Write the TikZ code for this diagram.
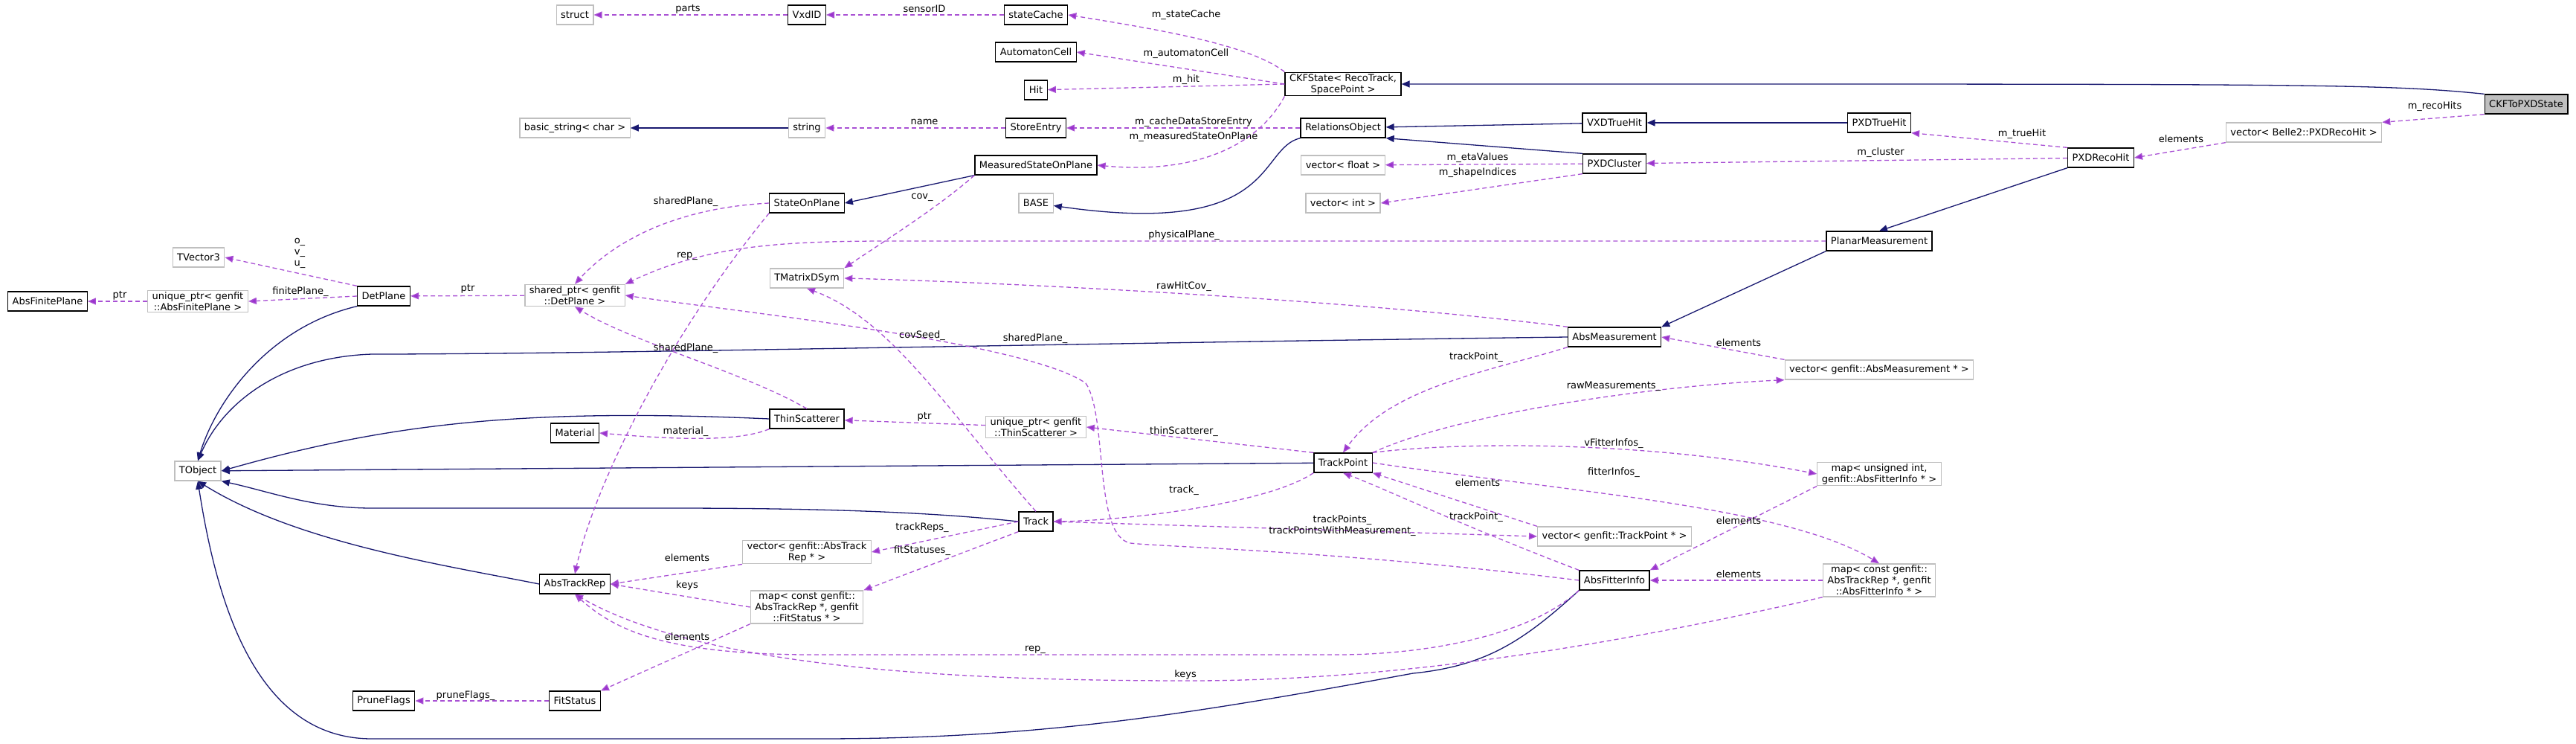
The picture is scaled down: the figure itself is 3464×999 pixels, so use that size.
\documentclass[tikz,border=0pt]{standalone}
\usepackage{fontspec}
\setmainfont{DejaVu Sans}
\usetikzlibrary{arrows.meta}
\definecolor{inhblue}{HTML}{191970}
\definecolor{usepurple}{HTML}{9A32CD}
\definecolor{extgray}{HTML}{BFBFBF}
\tikzset{
    cls/.style={draw=black, line width=1.3pt, fill=white, inner xsep=6pt, inner ysep=2pt, minimum height=26pt, align=center},
    ext/.style={cls, draw=extgray},
    main/.style={cls, fill=extgray},
    inh/.style={draw=inhblue, line width=1.3pt, -{Triangle[length=11pt,width=9pt]}},
    use/.style={draw=usepurple!85, line width=1.3pt, dash pattern=on 6pt off 4pt, -{Triangle[length=11pt,width=9pt,fill=usepurple]}},
    lbl/.style={inner sep=1pt, align=center}
}
\begin{document}
\begin{tikzpicture}[x=1pt, y=-1pt, font=\fontsize{13}{15}\selectfont]
    \useasboundingbox (0,0) rectangle (3464,999);

    % classes and containers
    \node[ext] (struct) at (773,20) {struct};
    \node[cls] (VxdID) at (1085,20) {VxdID};
    \node[cls] (stateCache) at (1393,20) {stateCache};
    \node[cls] (AutomatonCell) at (1393,70) {AutomatonCell};
    \node[cls] (Hit) at (1393,121) {Hit};
    \node[cls] (CKFState) at (1806,113) {CKFState< RecoTrack,\\SpacePoint >};
    \node[main] (CKFToPXDState) at (3397,140) {CKFToPXDState};
    \node[ext] (basicString) at (773,172) {basic\_string< char >};
    \node[ext] (string) at (1085,172) {string};
    \node[cls] (StoreEntry) at (1393,172) {StoreEntry};
    \node[cls] (RelationsObject) at (1806,172) {RelationsObject};
    \node[cls] (VXDTrueHit) at (2171,165) {VXDTrueHit};
    \node[cls] (PXDTrueHit) at (2527,165) {PXDTrueHit};
    \node[ext] (vecRecoHit) at (3098,178) {vector< Belle2::PXDRecoHit >};
    \node[cls] (PXDRecoHit) at (2825,212) {PXDRecoHit};
    \node[cls] (MeasState) at (1393,222) {MeasuredStateOnPlane};
    \node[ext] (vecFloat) at (1806,222) {vector< float >};
    \node[cls] (PXDCluster) at (2171,220) {PXDCluster};
    \node[cls] (StateOnPlane) at (1085,273) {StateOnPlane};
    \node[ext] (BASE) at (1393,273) {BASE};
    \node[ext] (vecInt) at (1806,273) {vector< int >};
    \node[cls] (PlanarMeas) at (2527,324) {PlanarMeasurement};
    \node[ext] (TVector3) at (267,346) {TVector3};
    \node[ext] (TMatrixDSym) at (1085,374) {TMatrixDSym};
    \node[cls] (AbsFinitePlane) at (64,405) {AbsFinitePlane};
    \node[ext] (uniqFinite) at (266,405) {unique\_ptr< genfit\\::AbsFinitePlane >};
    \node[cls] (DetPlane) at (516,398) {DetPlane};
    \node[ext] (sharedPlane) at (773,397) {shared\_ptr< genfit\\::DetPlane >};
    \node[cls] (AbsMeas) at (2171,453) {AbsMeasurement};
    \node[ext] (vecAbsMeas) at (2527,497) {vector< genfit::AbsMeasurement * >};
    \node[cls] (ThinScatterer) at (1085,563) {ThinScatterer};
    \node[cls] (Material) at (773,582) {Material};
    \node[ext] (uniqThin) at (1393,574) {unique\_ptr< genfit\\::ThinScatterer >};
    \node[cls] (TrackPoint) at (1806,622) {TrackPoint};
    \node[ext] (TObject) at (266,633) {TObject};
    \node[ext] (mapFitterUint) at (2527,637) {map< unsigned int,\\genfit::AbsFitterInfo * >};
    \node[cls] (Track) at (1393,701) {Track};
    \node[ext] (vecTrackPoint) at (2171,721) {vector< genfit::TrackPoint * >};
    \node[ext] (vecTrackRep) at (1085,742) {vector< genfit::AbsTrack\\Rep * >};
    \node[cls] (AbsTrackRep) at (773,785) {AbsTrackRep};
    \node[cls] (AbsFitterInfo) at (2171,780) {AbsFitterInfo};
    \node[ext] (mapFitterRep) at (2527,780) {map< const genfit::\\AbsTrackRep *, genfit\\::AbsFitterInfo * >};
    \node[ext] (mapFitStatus) at (1085,816) {map< const genfit::\\AbsTrackRep *, genfit\\::FitStatus * >};
    \node[cls] (PruneFlags) at (516,942) {PruneFlags};
    \node[cls] (FitStatus) at (773,942) {FitStatus};

    % inheritance
    \draw[inh] (CKFToPXDState.north west) .. controls (3200,112) and (3100,113) .. (CKFState);
    \draw[inh] (VXDTrueHit) -- (RelationsObject);
    \draw[inh] (PXDTrueHit) -- (VXDTrueHit);
    \draw[inh] (PXDCluster.north west) -- (RelationsObject.south east);
    \draw[inh] (PXDRecoHit.south west) -- (PlanarMeas.north);
    \draw[inh] (PlanarMeas.south west) -- (AbsMeas.north east);
    \draw[inh] (RelationsObject.south west) .. controls (1690,200) and (1720,320) .. (BASE);
    \draw[inh] (MeasState.south west) -- (StateOnPlane.east);
    \draw[inh] (string) -- (basicString);
    \draw[inh] (AbsMeas.west) .. controls (1400,462) and (800,476) .. (500,476) .. controls (380,480) and (300,540) .. (TObject.north);
    \draw[inh] (DetPlane.south west) .. controls (360,440) and (290,540) .. (TObject.north);
    \draw[inh] (ThinScatterer.west) .. controls (700,548) and (520,570) .. (TObject.east);
    \draw[inh] (TrackPoint) -- (TObject);
    \draw[inh] (Track.west) .. controls (1250,688) and (1100,683) .. (900,683) -- (500,683) .. controls (420,683) and (360,660) .. (TObject.south east);
    \draw[inh] (AbsTrackRep.west) .. controls (600,760) and (400,730) .. (TObject.south);
    \draw[inh] (AbsFitterInfo.south west) .. controls (2050,860) and (2000,895) .. (1900,905) .. controls (1600,960) and (1400,993) .. (1100,993) -- (500,993) .. controls (340,993) and (290,800) .. (TObject.south);

    % usage
    \draw[use] (VxdID) -- (struct);
    \draw[use] (stateCache) -- (VxdID);
    \draw[use] (CKFState.north west) .. controls (1680,60) and (1560,40) .. (stateCache.east);
    \draw[use] (CKFState.west) -- (AutomatonCell.east);
    \draw[use] (CKFState.west) -- (Hit);
    \draw[use] (StoreEntry) -- (string);
    \draw[use] (RelationsObject) -- (StoreEntry);
    \draw[use] (CKFState.south west) .. controls (1690,200) and (1600,234) .. (MeasState.east);
    \draw[use] (PXDCluster) -- (vecFloat);
    \draw[use] (PXDCluster.south west) -- (vecInt.east);
    \draw[use] (PXDRecoHit.north west) -- (PXDTrueHit.south east);
    \draw[use] (PXDRecoHit) -- (PXDCluster);
    \draw[use] (vecRecoHit.south west) -- (PXDRecoHit.east);
    \draw[use] (CKFToPXDState.south west) -- (vecRecoHit.north east);
    \draw[use] (DetPlane.north west) -- (TVector3.east);
    \draw[use] (DetPlane.west) -- (uniqFinite.east);
    \draw[use] (uniqFinite) -- (AbsFinitePlane);
    \draw[use] (sharedPlane) -- (DetPlane);
    \draw[use] (StateOnPlane.west) .. controls (900,280) and (820,330) .. (sharedPlane.north);
    \draw[use] (StateOnPlane.south west) .. controls (900,450) and (800,650) .. (AbsTrackRep.north);
    \draw[use] (PlanarMeas.west) -- (1200,324) .. controls (1050,324) and (950,330) .. (sharedPlane.north east);
    \draw[use] (MeasState.south west) .. controls (1260,280) and (1180,330) .. (TMatrixDSym.north east);
    \draw[use] (AbsMeas.north west) .. controls (1800,400) and (1300,378) .. (TMatrixDSym.east);
    \draw[use] (AbsMeas.south west) .. controls (2000,500) and (1870,520) .. (TrackPoint.north);
    \draw[use] (vecAbsMeas.north west) -- (AbsMeas.east);
    \draw[use] (TrackPoint.north east) .. controls (1950,560) and (2200,520) .. (vecAbsMeas.south west);
    \draw[use] (ThinScatterer.north) .. controls (1000,500) and (850,460) .. (sharedPlane.south);
    \draw[use] (AbsFitterInfo.west) .. controls (1800,740) and (1560,735) .. (1520,730) .. controls (1470,720) and (1490,560) .. (1460,515) .. controls (1380,460) and (1000,420) .. (sharedPlane.east);
    \draw[use] (Track.north) .. controls (1280,560) and (1200,430) .. (TMatrixDSym.south);
    \draw[use] (ThinScatterer.south west) .. controls (990,595) and (900,590) .. (Material.east);
    \draw[use] (uniqThin) -- (ThinScatterer);
    \draw[use] (TrackPoint.north west) -- (uniqThin.east);
    \draw[use] (TrackPoint.south west) .. controls (1700,680) and (1500,700) .. (Track.east);
    \draw[use] (Track.east) -- (vecTrackPoint.west);
    \draw[use] (vecTrackPoint.north west) -- (TrackPoint.south east);
    \draw[use] (AbsFitterInfo.north west) .. controls (1950,700) and (1870,660) .. (TrackPoint.south);
    \draw[use] (TrackPoint.north east) .. controls (1950,595) and (2200,590) .. (mapFitterUint.west);
    \draw[use] (TrackPoint.east) .. controls (2100,660) and (2400,680) .. (mapFitterRep.north);
    \draw[use] (mapFitterUint.south west) -- (AbsFitterInfo.north east);
    \draw[use] (mapFitterRep) -- (AbsFitterInfo);
    \draw[use] (Track.west) -- (vecTrackRep.east);
    \draw[use] (Track.south west) -- (mapFitStatus.north east);
    \draw[use] (vecTrackRep.south west) -- (AbsTrackRep.east);
    \draw[use] (mapFitStatus.west) -- (AbsTrackRep.east);
    \draw[use] (mapFitStatus.south west) -- (FitStatus.north east);
    \draw[use] (FitStatus) -- (PruneFlags);
    \draw[use] (AbsFitterInfo.south west) .. controls (2050,860) and (1900,880) .. (1800,880) -- (1080,880) .. controls (900,878) and (830,850) .. (AbsTrackRep.south);
    \draw[use] (mapFitterRep.south west) .. controls (2200,860) and (1900,915) .. (1600,915) .. controls (1300,915) and (950,900) .. (AbsTrackRep.south);

    % labels
    \node[lbl] (lParts) at (925,12) {parts};
    \node[lbl] (lSensor) at (1243,12) {sensorID};
    \node[lbl] (lStateCache) at (1595,20) {m\_stateCache};
    \node[lbl] (lAutomaton) at (1595,72) {m\_automatonCell};
    \node[lbl] (lHit) at (1595,107) {m\_hit};
    \node[lbl] (lName) at (1243,164) {name};
    \node[lbl] (lCacheEntry) at (1605,164) {m\_cacheDataStoreEntry};
    \node[lbl] (lMeasState) at (1605,184) {m\_measuredStateOnPlane};
    \node[lbl] (lRecoHits) at (3274,143) {m\_recoHits};
    \node[lbl] (lTrueHit) at (2719,180) {m\_trueHit};
    \node[lbl] (lRecoElem) at (2933,187) {elements};
    \node[lbl] (lCluster) at (2529,205) {m\_cluster};
    \node[lbl] (lEta) at (1987,212) {m\_etaValues};
    \node[lbl] (lShape) at (1987,232) {m\_shapeIndices};
    \node[lbl] (lCov) at (1240,265) {cov\_};
    \node[lbl] (lShared1) at (922,271) {sharedPlane\_};
    \node[lbl] (lPhysical) at (1592,316) {physicalPlane\_};
    \node[lbl] (lOVU) at (403,340) {o\_\\v\_\\u\_};
    \node[lbl] (lRep1) at (924,344) {rep\_};
    \node[lbl] (lRawCov) at (1592,385) {rawHitCov\_};
    \node[lbl] (lFinite) at (404,392) {finitePlane\_};
    \node[lbl] (lPtr1) at (161,397) {ptr};
    \node[lbl] (lPtr2) at (629,388) {ptr};
    \node[lbl] (lCovSeed) at (1240,451) {covSeed\_};
    \node[lbl] (lShared2) at (1392,455) {sharedPlane\_};
    \node[lbl] (lShared3) at (922,468) {sharedPlane\_};
    \node[lbl] (lTrackPoint1) at (1985,480) {trackPoint\_};
    \node[lbl] (lMeasElem) at (2338,461) {elements};
    \node[lbl] (lRawMeas) at (2170,519) {rawMeasurements\_};
    \node[lbl] (lPtr3) at (1243,560) {ptr};
    \node[lbl] (lMaterial) at (922,580) {material\_};
    \node[lbl] (lThin) at (1592,580) {thinScatterer\_};
    \node[lbl] (lVFitter) at (2170,596) {vFitterInfos\_};
    \node[lbl] (lFitter) at (2170,635) {fitterInfos\_};
    \node[lbl] (lTPElem) at (1987,649) {elements};
    \node[lbl] (lTrack) at (1592,659) {track\_};
    \node[lbl] (lTrackPoint2) at (1985,695) {trackPoint\_};
    \node[lbl] (lTrackPoints) at (1805,707) {trackPoints\_\\trackPointsWithMeasurement\_};
    \node[lbl] (lUintElem) at (2338,700) {elements};
    \node[lbl] (lTrackReps) at (1240,709) {trackReps\_};
    \node[lbl] (lFitStatuses) at (1240,740) {fitStatuses\_};
    \node[lbl] (lRepElem) at (924,750) {elements};
    \node[lbl] (lRepMapElem) at (2338,772) {elements};
    \node[lbl] (lKeys1) at (924,787) {keys};
    \node[lbl] (lStatusElem) at (924,856) {elements};
    \node[lbl] (lRep2) at (1392,873) {rep\_};
    \node[lbl] (lKeys2) at (1594,907) {keys};
    \node[lbl] (lPrune) at (626,935) {pruneFlags\_};
\end{tikzpicture}
\end{document}
